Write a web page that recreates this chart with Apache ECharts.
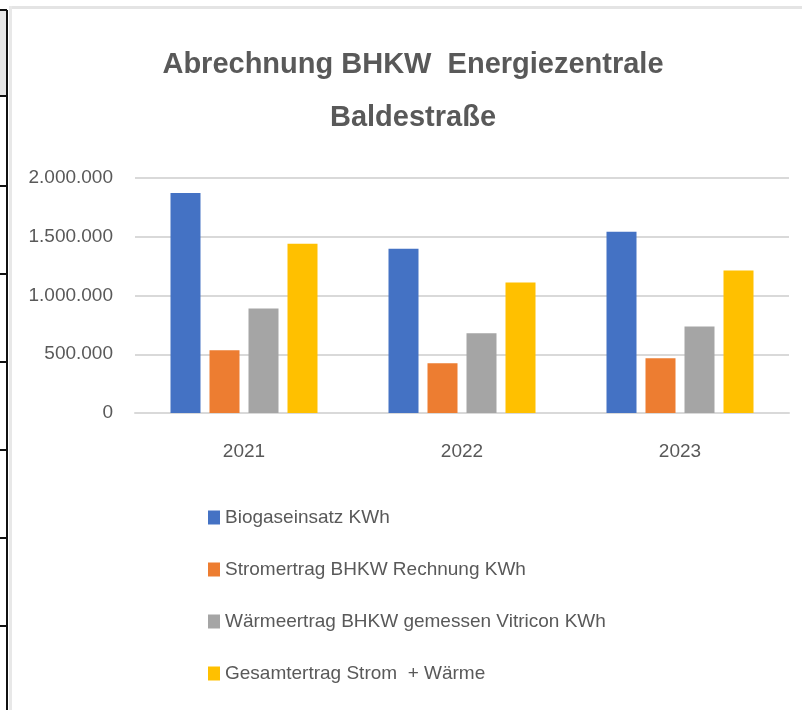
<!DOCTYPE html>
<html>
<head>
<meta charset="utf-8">
<script src="https://cdn.jsdelivr.net/npm/echarts@6/dist/echarts.min.js"></script>
<style>
  html, body { margin: 0; padding: 0; background: #fff; }
  #chart { width: 802px; height: 710px; }
</style>
</head>
<body>
<div id="chart"></div>
<script>
var years = ['2021', '2022', '2023'];
var biogas = [1873000, 1398000, 1542000];
var strom = [534000, 424000, 466000];
var waerme = [890000, 678000, 737000];
var gesamt = [1440000, 1110000, 1212000];
var seriesNames = [
    'Biogaseinsatz KWh',
    'Stromertrag BHKW Rechnung KWh',
    'Wärmeertrag BHKW gemessen Vitricon KWh',
    'Gesamtertrag Strom  + Wärme'
];
var colors = ['#4472C4', '#ED7D31', '#A5A5A5', '#FFC000'];

function fmt(v) {
    return String(v).replace(/\B(?=(\d{3})+(?!\d))/g, '.');
}

var font = 'Liberation Sans';
var txt = '#595959';

// spreadsheet edge seen behind the chart on the left
var deco = [
    { type: 'rect', shape: { x: 0, y: 10, width: 7, height: 86 }, style: { fill: '#e6e6e6' } },
    { type: 'rect', shape: { x: 6, y: 10, width: 2, height: 700 }, style: { fill: '#111' } },
    { type: 'rect', shape: { x: 9, y: 6, width: 793, height: 3 }, style: { fill: '#e4e4e4' } },
    { type: 'rect', shape: { x: 9, y: 6, width: 3, height: 704 }, style: { fill: '#e8e8e8' } }
];
[10, 96, 186, 274, 362, 450, 538, 626].forEach(function (y) {
    deco.push({ type: 'rect', shape: { x: 0, y: y - 1, width: 7, height: 2 }, style: { fill: '#111' } });
});

var chart = echarts.init(document.getElementById('chart'));

var option = {
    backgroundColor: '#fff',
    color: colors,
    animation: false,
    title: {
        text: 'Abrechnung BHKW  Energiezentrale\nBaldestraße',
        left: 408,
        top: 33,
        textAlign: 'center',
        textStyle: {
            fontFamily: font,
            fontSize: 29,
            fontWeight: 'bold',
            color: txt,
            lineHeight: 53
        }
    },
    legend: {
        orient: 'vertical',
        left: 203,
        top: 503,
        itemWidth: 12,
        itemHeight: 14,
        itemGap: 33,
        icon: 'rect',
        textStyle: { fontFamily: font, fontSize: 19, color: txt },
        data: seriesNames
    },
    grid: {
        left: 135,
        right: 13,
        top: 178,
        bottom: 297,
        containLabel: false
    },
    xAxis: {
        type: 'category',
        data: years,
        axisLine: { lineStyle: { color: '#d9d9d9', width: 2 } },
        axisTick: { show: false },
        axisLabel: { fontFamily: font, fontSize: 19, color: txt, margin: 29 }
    },
    yAxis: {
        type: 'value',
        min: 0,
        max: 2000000,
        interval: 500000,
        axisLine: { show: false },
        axisTick: { show: false },
        splitLine: { lineStyle: { color: '#d9d9d9', width: 2 } },
        axisLabel: {
            fontFamily: font,
            fontSize: 19,
            color: txt,
            margin: 22,
            formatter: fmt
        }
    },
    series: [
        { name: seriesNames[0], type: 'bar', data: biogas, barWidth: 30, barGap: '30%' },
        { name: seriesNames[1], type: 'bar', data: strom, barWidth: 30, barGap: '30%' },
        { name: seriesNames[2], type: 'bar', data: waerme, barWidth: 30, barGap: '30%' },
        { name: seriesNames[3], type: 'bar', data: gesamt, barWidth: 30, barGap: '30%' }
    ],
    graphic: deco
};

chart.setOption(option);
</script>
</body>
</html>
